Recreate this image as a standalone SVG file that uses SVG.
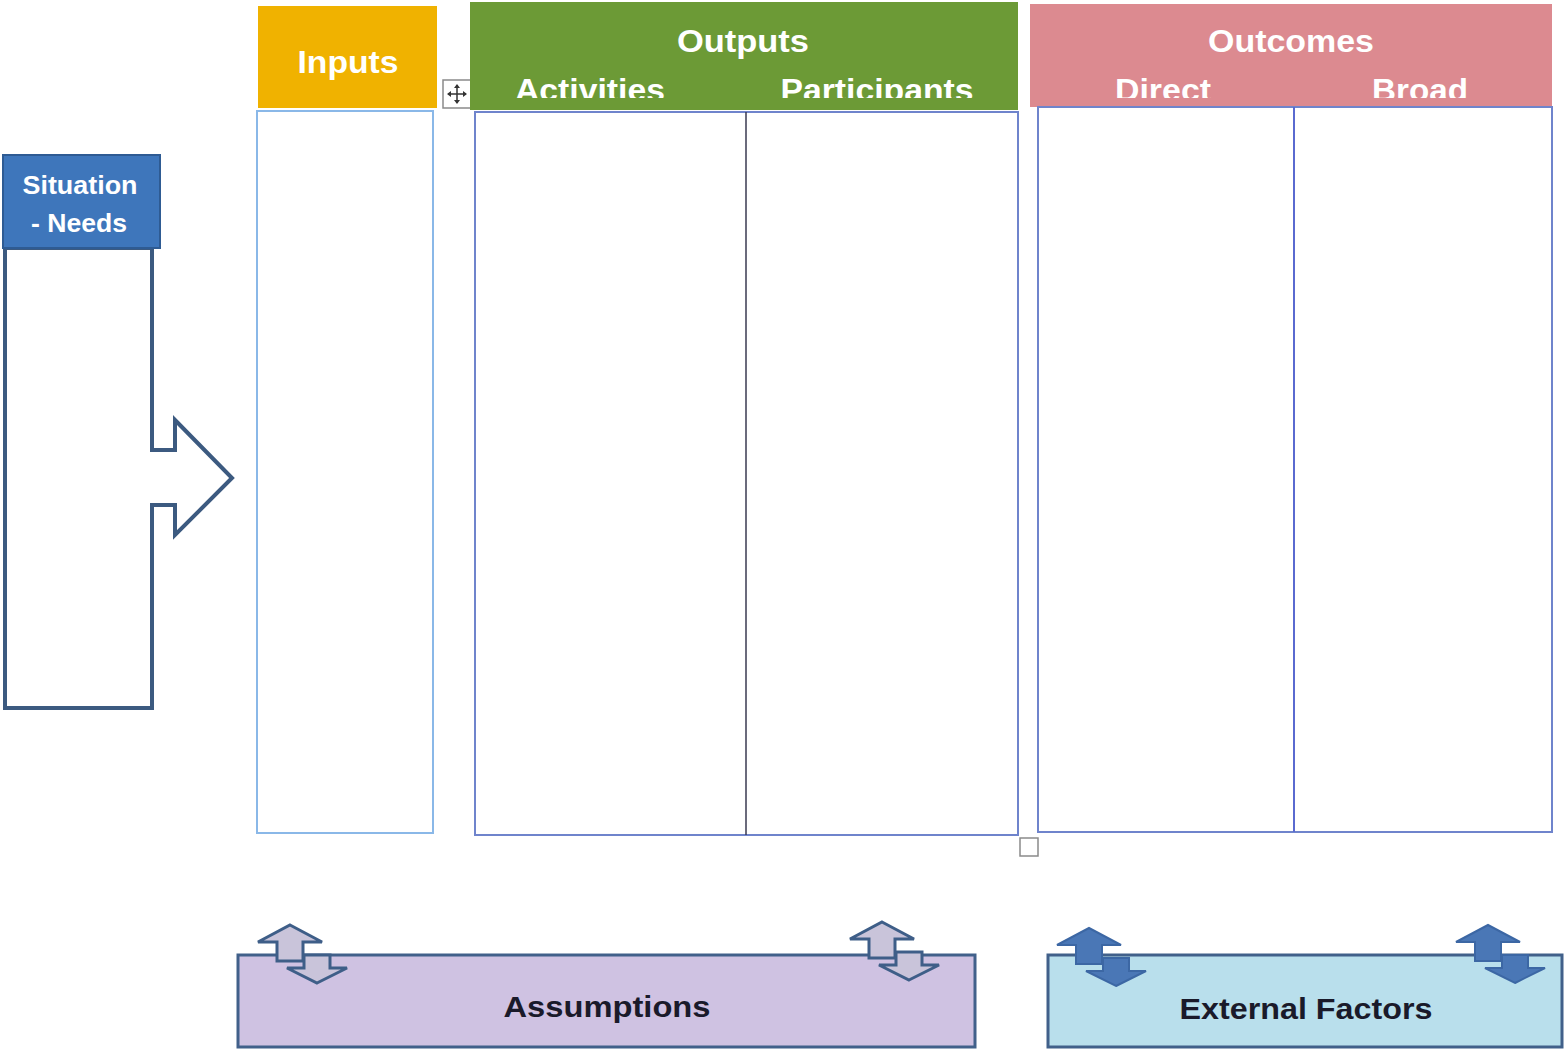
<svg xmlns="http://www.w3.org/2000/svg" width="1565" height="1050" viewBox="0 0 1565 1050">
<style>
.hd{font-family:"Liberation Sans",Arial,sans-serif;font-weight:bold;fill:#ffffff;text-anchor:middle}
.lb{font-family:"Liberation Sans",Arial,sans-serif;font-weight:bold;fill:#1a1a2a;text-anchor:middle}
.col{fill:#ffffff;stroke:#6f84cc;stroke-width:2}
.upo{fill:#c9c4da;stroke:#3e5e88;stroke-width:3;stroke-linejoin:miter}
.upf{fill:#4a77b6;stroke:#3c67a4;stroke-width:2}
</style>
<defs>
<clipPath id="cpOut"><rect x="470" y="0" width="550" height="98"/></clipPath>
<clipPath id="cpOc"><rect x="1030" y="0" width="525" height="98"/></clipPath>
<g id="dbl">
<path d="M0,0 L32,17 L13,17 L13,36 L-13,36 L-13,17 L-32,17 Z"/>
<path d="M27,58 L57,43 L40,43 L40,30 L14,30 L14,43 L-3,43 Z"/>
</g>
</defs>
<rect width="1565" height="1050" fill="#ffffff"/>

<g id="situation">
<path d="M5,248 L152,248 L152,450 L175,450 L175,420 L232,478 L175,535 L175,505 L152,505 L152,708 L5,708 Z" fill="#ffffff" stroke="#3c5a80" stroke-width="4" stroke-linejoin="miter"/>
<rect x="3" y="155" width="157" height="93" fill="#3e76bb" stroke="#2e5b93" stroke-width="2"/>
<text class="hd" x="80" y="194" font-size="26" textLength="115" lengthAdjust="spacingAndGlyphs">Situation</text>
<text class="hd" x="79" y="232" font-size="26" textLength="96" lengthAdjust="spacingAndGlyphs">- Needs</text>
</g>

<g id="inputs">
<rect x="258" y="6" width="179" height="102" fill="#f0b200"/>
<rect x="257" y="111" width="176" height="722" fill="#ffffff" stroke="#8ab8e8" stroke-width="2"/>
<text class="hd" x="348" y="73" font-size="31" textLength="101" lengthAdjust="spacingAndGlyphs">Inputs</text>
</g>

<g id="move-icon">
<rect x="443" y="80" width="28" height="28" fill="#ffffff" stroke="#8a8a8a" stroke-width="1.5"/>
<path d="M457,85 L457,103 M448,94 L466,94" stroke="#333" stroke-width="1.5"/>
<path d="M457,84 L454,88 L460,88 Z M457,104 L454,100 L460,100 Z M447,94 L451,91 L451,97 Z M467,94 L463,91 L463,97 Z" fill="#333"/>
</g>

<g id="outputs">
<rect x="470" y="2" width="548" height="108" fill="#6c9a36"/>
<rect class="col" x="475" y="112" width="543" height="723"/>
<line x1="746" y1="112" x2="746" y2="835" stroke="#3a3a50" stroke-width="1.5"/>
<text class="hd" x="743" y="52" font-size="31" textLength="132" lengthAdjust="spacingAndGlyphs">Outputs</text>
<g clip-path="url(#cpOut)">
<text class="hd" x="590" y="101" font-size="31" textLength="150" lengthAdjust="spacingAndGlyphs">Activities</text>
<text class="hd" x="877" y="101" font-size="31" textLength="193" lengthAdjust="spacingAndGlyphs">Participants</text>
</g>
</g>

<g id="outcomes">
<rect x="1030" y="4" width="522" height="103" fill="#dc8a90"/>
<rect class="col" x="1038" y="107" width="514" height="725"/>
<line x1="1294" y1="107" x2="1294" y2="832" stroke="#5a6ad0" stroke-width="2"/>
<text class="hd" x="1291" y="52" font-size="31" textLength="166" lengthAdjust="spacingAndGlyphs">Outcomes</text>
<g clip-path="url(#cpOc)">
<text class="hd" x="1163" y="101" font-size="31" textLength="96" lengthAdjust="spacingAndGlyphs">Direct</text>
<text class="hd" x="1420" y="101" font-size="31" textLength="96" lengthAdjust="spacingAndGlyphs">Broad</text>
</g>
</g>

<g id="resize-handle">
<rect x="1020" y="838" width="18" height="18" fill="#ffffff" stroke="#8a8a8a" stroke-width="1.5"/>
</g>

<g id="assumptions">
<rect x="238" y="955" width="737" height="92" fill="#cfc2e2" stroke="#41608a" stroke-width="3"/>
<text class="lb" x="607" y="1017" font-size="29" textLength="207" lengthAdjust="spacingAndGlyphs">Assumptions</text>
</g>

<g id="external-factors">
<rect x="1048" y="955" width="514" height="92" fill="#b9dfec" stroke="#41608a" stroke-width="3"/>
<text class="lb" x="1306" y="1019" font-size="29" textLength="253" lengthAdjust="spacingAndGlyphs">External  Factors</text>
</g>

<g id="connectors">
<use href="#dbl" class="upo" x="290" y="925"/>
<use href="#dbl" class="upo" x="882" y="922"/>
<use href="#dbl" class="upf" x="1089" y="928"/>
<use href="#dbl" class="upf" x="1488" y="925"/>
</g>
</svg>
